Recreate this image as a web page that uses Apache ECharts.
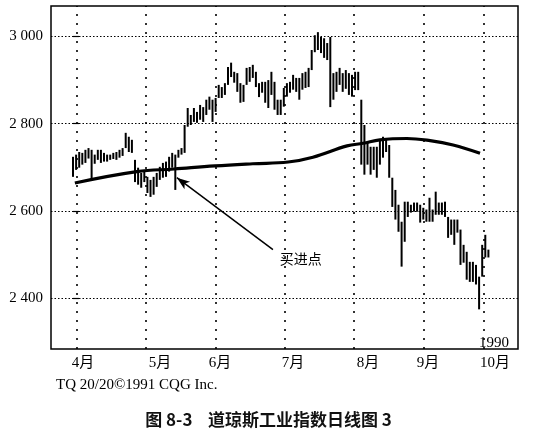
<!DOCTYPE html>
<html>
<head>
<meta charset="utf-8">
<script src="https://cdn.jsdelivr.net/npm/echarts@6/dist/echarts.min.js"></script>
<style>
html,body{margin:0;padding:0;background:#fff;}
#c{width:537px;height:442px;}
</style>
</head>
<body>
<div id="c"></div>
<script>
// daily high / low of the index (bar index = trading day)
const highs = [2724,2729,2735,2733,2740,2744,2740,2729,2740,2740,2733,2729,2729,2733,2735,2740,2744,
  2779,2770,2763,2717,2699,2687,2690,2678,2671,2678,2687,2701,2710,2713,2724,2733,2729,2740,2744,2797,
  2836,2820,2836,2827,2843,2838,2855,2862,2855,2859,2889,2884,2893,2930,2940,2919,2916,2893,2889,2928,
  2930,2935,2919,2893,2896,2896,2900,2919,2896,2855,2855,2882,2893,2896,2912,2905,2905,2916,2919,2928,
  2969,3003,3010,2999,2996,2985,2999,2916,2919,2928,2916,2923,2916,2912,2919,2919,2855,2797,2756,2747,
  2747,2747,2763,2770,2763,2751,2676,2648,2614,2575,2621,2621,2614,2619,2619,2614,2607,2603,2630,2603,
  2644,2619,2619,2621,2586,2580,2580,2580,2557,2522,2506,2483,2483,2476,2449,2522,2545,2511];
const lows = [2678,2694,2699,2706,2710,2720,2671,2708,2717,2710,2713,2713,2717,2719,2717,2722,2726,
  2744,2735,2733,2666,2660,2653,2666,2641,2632,2637,2655,2671,2676,2678,2690,2699,2648,2722,2729,2733,
  2793,2797,2804,2802,2809,2804,2820,2832,2804,2827,2859,2859,2866,2889,2907,2894,2873,2848,2850,2889,
  2896,2905,2884,2861,2871,2848,2836,2866,2832,2820,2820,2839,2862,2871,2878,2873,2855,2878,2882,2884,
  2923,2964,2969,2962,2951,2946,2838,2855,2873,2889,2873,2880,2866,2862,2877,2877,2706,2683,2706,2683,
  2694,2676,2706,2722,2735,2676,2609,2580,2552,2472,2529,2586,2596,2598,2598,2573,2580,2575,2575,2575,
  2591,2591,2591,2586,2538,2545,2522,2550,2476,2481,2442,2437,2437,2431,2374,2449,2493,2493];
// moving average readings: [bar index, value]
const maIdx = [0.6, 20.6, 32.6, 45.8, 58, 69.4, 77.4, 88.4, 93.6, 99.0, 107.7, 115.2, 122.6, 131.3];
const maVal = [2664, 2690, 2696, 2703, 2708, 2712, 2723, 2749, 2755, 2763, 2766, 2761, 2751, 2732];
// axis text
const monthPos = [3.2, 28.1, 47.4, 71.0, 95.2, 114.5, 136.1];
const monthLabels = ['4月','5月','6月','7月','8月','9月','10月'];
const yTicks = [2400, 2600, 2800, 3000];
const vGrid = [1.19, 23.55, 46.03, 68.39, 90.65, 113.0, 132.35];
// annotation
const buyPoint = [33.5, 2676];
const arrowTail = [64.5, 2511];
const buyLabelAt = [73.5, 2490];

const serif = '"Liberation Serif","Times New Roman","Noto Sans CJK SC",serif';
const bars = highs.map((h, i) => [i, h, lows[i]]);
const ma = maIdx.map((x, i) => [x, maVal[i]]);

const chart = echarts.init(document.getElementById('c'), null, {renderer: 'canvas'});
chart.setOption({
  animation: false,
  backgroundColor: '#fff',
  grid: {left: 51, top: 6, width: 467, height: 343, show: true, borderColor: '#000', borderWidth: 1.5, backgroundColor: 'transparent'},
  title: [
    {text: 'TQ 20/20©1991 CQG Inc.', left: 51, top: 373, textStyle: {fontFamily: serif, fontSize: 15, fontWeight: 'normal', color: '#000'}},
    {text: '图 8-3    道琼斯工业指数日线图 3', left: 'center', top: 406, textStyle: {fontFamily: '"Noto Sans CJK SC",sans-serif', fontSize: 17, fontWeight: 'bold', color: '#111'}},
    {text: '1990', right: 23, top: 331, textStyle: {fontFamily: serif, fontSize: 15, fontWeight: 'normal', color: '#000'}}
  ],
  xAxis: {
    type: 'value', min: -7.1, max: 143.55,
    axisLine: {show: false}, axisTick: {show: false}, splitLine: {show: false},
    axisLabel: {customValues: monthPos, formatter: v => monthLabels[monthPos.indexOf(v)], fontFamily: serif, fontSize: 15, color: '#000', margin: 7}
  },
  yAxis: {
    type: 'value', min: 2283, max: 3070,
    axisLine: {show: false}, splitLine: {show: false},
    axisTick: {show: true, inside: true, length: 6, customValues: yTicks, lineStyle: {color: '#000', width: 1.2}},
    axisLabel: {customValues: yTicks, fontFamily: serif, fontSize: 15, color: '#000', margin: 8,
      formatter: v => Math.floor(v / 1000) + ' ' + String(v % 1000).padStart(3, '0')}
  },
  series: [
    {
      type: 'custom', data: bars, clip: true,
      renderItem: (params, api) => {
        const t = api.coord([api.value(0), api.value(1)]);
        const b = api.coord([api.value(0), api.value(2)]);
        return {type: 'line', shape: {x1: t[0], y1: t[1], x2: b[0], y2: b[1]}, style: {stroke: '#000', lineWidth: 2}};
      },
      encode: {x: 0, y: [1, 2]}
    },
    {
      type: 'line', data: ma, smooth: 0.4, symbol: 'none',
      lineStyle: {color: '#000', width: 3.2},
      markLine: {
        silent: true, symbol: 'none', label: {show: false}, animation: false,
        data: [
          ...vGrid.map(x => ({xAxis: x, lineStyle: {type: [2, 7], color: '#000', width: 1.6}})),
          ...yTicks.map(y => ({yAxis: y, lineStyle: {type: [1.5, 2], color: '#000', width: 1.2}})),
          [{coord: arrowTail, symbol: 'none', lineStyle: {type: 'solid', color: '#000', width: 1.5}},
           {coord: buyPoint, symbol: 'arrow', symbolSize: [7, 13]}]
        ]
      },
      markPoint: {
        silent: true, symbolSize: 0,
        data: [{coord: buyLabelAt, label: {show: true, formatter: '买进点', color: '#000', fontSize: 14, fontFamily: '"Noto Sans CJK SC",sans-serif'}}]
      }
    }
  ]
});
</script>
</body>
</html>
